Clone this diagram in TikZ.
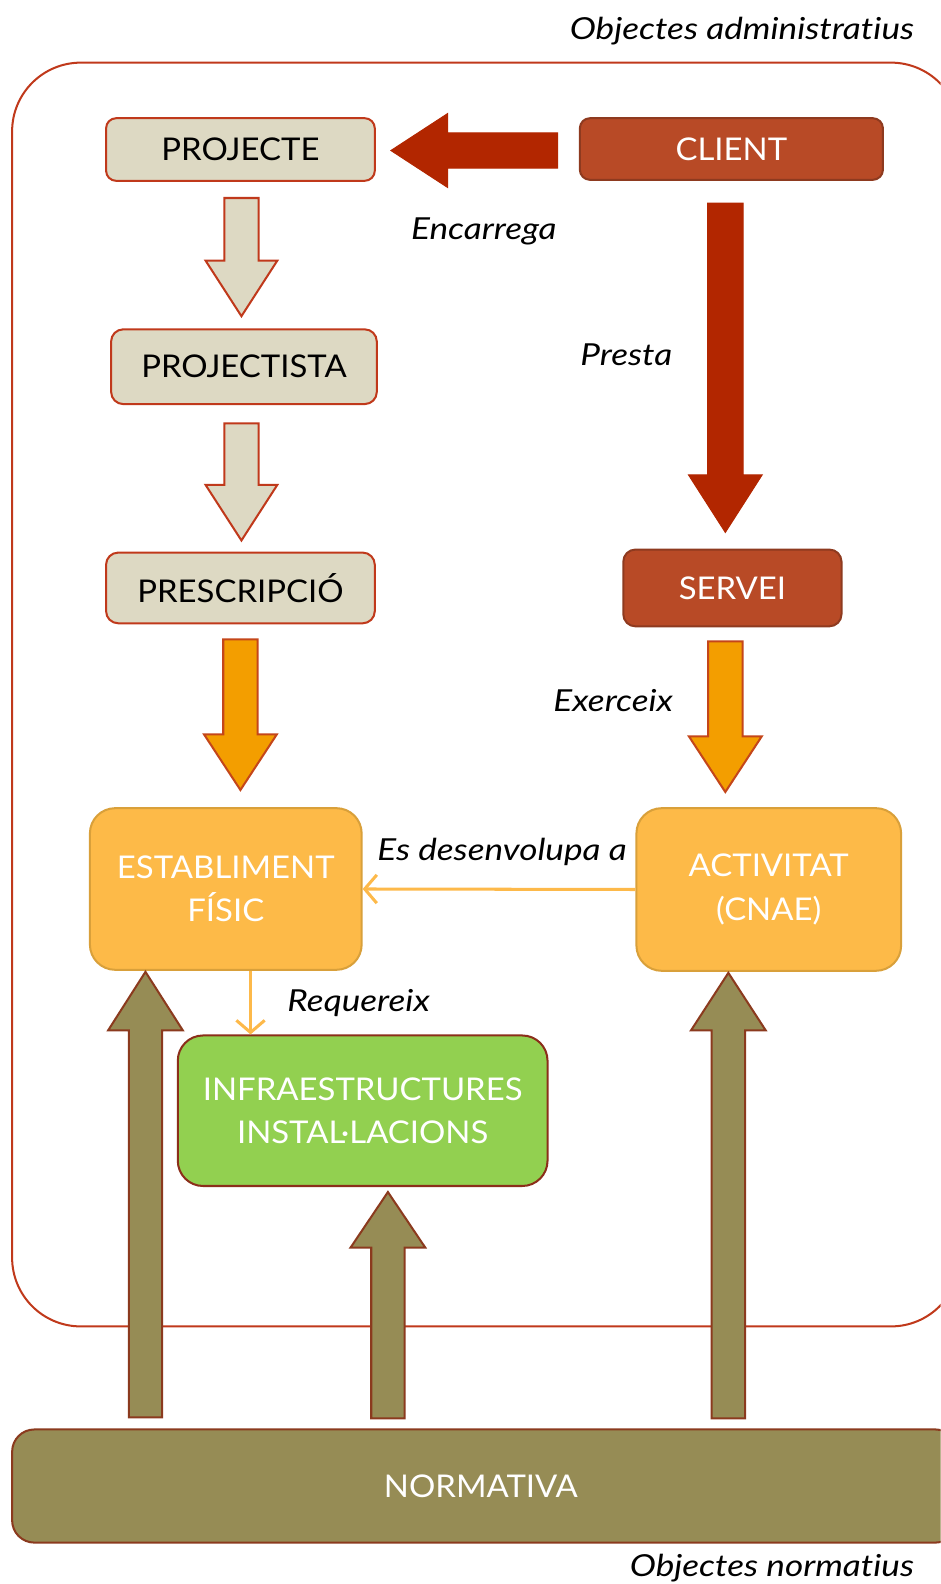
\documentclass[tikz,border=0pt]{standalone}
\usepackage{fontspec}
\setmainfont{Lato}[FakeStretch=1.05]
\newfontfamily\lblfont{Lato}[FakeStretch=1.16,Ligatures=NoCommon]
\usetikzlibrary{calc,arrows.meta}
\definecolor{beige}{HTML}{DDD9C3}
\definecolor{redborder}{HTML}{C0391B}
\definecolor{darkred}{HTML}{B22600}
\definecolor{rust}{HTML}{B84A26}
\definecolor{rustborder}{HTML}{8E3A1F}
\definecolor{orangeA}{HTML}{F39E00}
\definecolor{orangeB}{HTML}{C4461A}
\definecolor{yellowbox}{HTML}{FDBA48}
\definecolor{yellowborder}{HTML}{D9A03A}
\definecolor{greenbox}{HTML}{92D050}
\definecolor{greenborder}{HTML}{8B2E1A}
\definecolor{olive}{HTML}{968C55}
\definecolor{oliveborder}{HTML}{8B3A1E}
\definecolor{connector}{HTML}{FDB94A}
% #1 style, #2 tail, #3 tip, #4 shaft half width, #5 head half width, #6 head length
\newcommand{\blockarrow}[6][]{%
  \coordinate (bahb) at ($(#3)!#6!(#2)$);
  \draw[#1] ($(#2)!#4!90:(#3)$) -- ($(bahb)!#4!-90:(#2)$) -- ($(bahb)!#5!-90:(#2)$)
    -- (#3) -- ($(bahb)!#5!90:(#2)$) -- ($(bahb)!#4!90:(#2)$) -- ($(#2)!#4!-90:(#3)$) -- cycle;}
\begin{document}
\begin{tikzpicture}[x=1pt,y=-1pt,
  base/.style={inner sep=0pt, align=center, line width=2pt, font=\fontsize{31}{43}\selectfont},
  beigebox/.style={base, draw=redborder, fill=beige, text=black, rounded corners=10pt},
  rustbox/.style={base, draw=rustborder, fill=rust, text=white, rounded corners=10pt},
  yellowbx/.style={base, draw=yellowborder, fill=yellowbox, text=white, rounded corners=25pt},
  greenbx/.style={base, draw=greenborder, fill=greenbox, text=white, rounded corners=25pt},
  olivebx/.style={base, draw=oliveborder, fill=olive, text=white, rounded corners=22pt},
  lbl/.style={inner sep=0pt, font=\lblfont\fontsize{30}{36}\selectfont\itshape},
  redarrow/.style={fill=darkred, draw=darkred, line width=1pt},
  beigearrow/.style={fill=beige, draw=redborder, line width=2pt},
  orangearrow/.style={fill=orangeA, draw=orangeB, line width=2pt},
  olivearrow/.style={fill=olive, draw=oliveborder, line width=2pt},
  conn/.style={draw=connector, line width=3pt, -{Straight Barb[length=12pt,width=28pt,line width=3pt]}}
]
\clip (0,0) rectangle (931,1568);
% outer frame
\draw[redborder, line width=2pt, rounded corners=68pt] (12,62) rectangle (950,1313);

% boxes
\node[beigebox, minimum width=266pt, minimum height=62pt] (projecte) at (238,148) {PROJECTE};
\node[rustbox, minimum width=300pt, minimum height=61pt] (client) at (724,147.5) {CLIENT};
\node[beigebox, minimum width=263pt, minimum height=74pt, rounded corners=12pt] (projectista) at (241.5,363) {PROJECTISTA};
\node[beigebox, minimum width=266pt, minimum height=70pt, rounded corners=12pt] (prescripcio) at (238,582) {PRESCRIPCIÓ};
\node[rustbox, minimum width=216pt, minimum height=76pt, rounded corners=12pt] (servei) at (725,582) {SERVEI};
\node[yellowbx, minimum width=269pt, minimum height=160pt] (establiment) at (223.5,880) {ESTABLIMENT\\FÍSIC};
\node[yellowbx, minimum width=262pt, minimum height=161pt] (activitat) at (761,880.5) {ACTIVITAT\\(CNAE)};
\node[greenbx, minimum width=366pt, minimum height=149pt] (infra) at (359,1099.5) {INFRAESTRUCTURES\\INSTAL·LACIONS};
\node[olivebx, minimum width=936pt, minimum height=112pt] (normbox) at (480,1471) {};
\node[text=white, font=\fontsize{31}{38}\selectfont, inner sep=0pt] (normativa) at (476,1471) {NORMATIVA};

% block arrows
\coordinate (encT) at (552,149); \coordinate (encH) at (387,149);
\blockarrow[redarrow]{encT}{encH}{17.5pt}{36.5pt}{56pt}
\coordinate (preT) at (718,201); \coordinate (preH) at (718,527);
\blockarrow[redarrow]{preT}{preH}{17.5pt}{36.5pt}{57pt}
\coordinate (b1T) at (239,196); \coordinate (b1H) at (239,313);
\blockarrow[beigearrow]{b1T}{b1H}{17pt}{35.5pt}{55pt}
\coordinate (b2T) at (239,419); \coordinate (b2H) at (239,535);
\blockarrow[beigearrow]{b2T}{b2H}{17pt}{35.5pt}{55pt}
\coordinate (o1T) at (238,633); \coordinate (o1H) at (238,782);
\blockarrow[orangearrow]{o1T}{o1H}{17pt}{36pt}{55pt}
\coordinate (o2T) at (718,635); \coordinate (o2H) at (718,784);
\blockarrow[orangearrow]{o2T}{o2H}{17pt}{36pt}{55pt}
\coordinate (v1T) at (144,1403); \coordinate (v1H) at (144,962);
\blockarrow[olivearrow]{v1T}{v1H}{16.5pt}{37pt}{58pt}
\coordinate (v2T) at (384,1404); \coordinate (v2H) at (384,1180);
\blockarrow[olivearrow]{v2T}{v2H}{16.5pt}{37pt}{55pt}
\coordinate (v3T) at (721,1404); \coordinate (v3H) at (721,963);
\blockarrow[olivearrow]{v3T}{v3H}{16.5pt}{37pt}{57pt}

% thin connectors
\draw[conn] (activitat.west) -- (establiment.east);
\draw[conn] (establiment.south -| 248,0) -- (infra.north -| 248,0);

% labels
\node[lbl, anchor=base east] (objadm) at (905,39) {Objectes administratius};
\node[lbl, anchor=base] (encarrega) at (479,237) {Encarrega};
\node[lbl, anchor=base] (presta) at (620,362) {Presta};
\node[lbl, anchor=base] (exerceix) at (607,704) {Exerceix};
\node[lbl, anchor=base] (desenv) at (497,852) {Es desenvolupa a};
\node[lbl, anchor=base] (requereix) at (355,1001) {Requereix};
\node[lbl, anchor=base east] (objnorm) at (905,1561) {Objectes normatius};
\end{tikzpicture}
\end{document}
